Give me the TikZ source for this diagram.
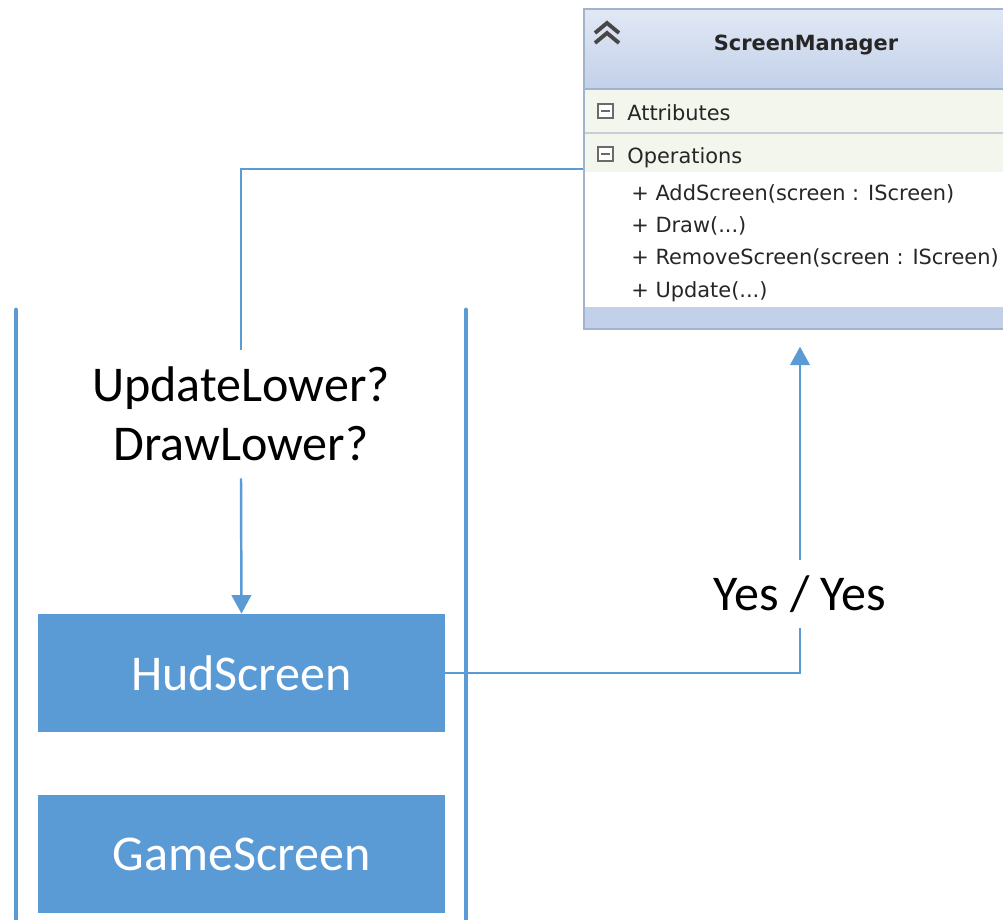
\documentclass[tikz,border=0pt]{standalone}
\usepackage{fontspec}
\setmainfont{Carlito}
\newfontfamily\umlfont{DejaVu Sans}
\usetikzlibrary{arrows.meta,positioning}
\definecolor{accent}{HTML}{5B9BD5}
\definecolor{umltop}{HTML}{E2E9F5}
\definecolor{umlhead}{HTML}{C2D0E9}
\definecolor{umlrow}{HTML}{F3F6EC}
\definecolor{umledge}{HTML}{A2B3CD}
\definecolor{umlsep}{HTML}{C9CED6}
\definecolor{umlink}{HTML}{262626}
\definecolor{umlicon}{HTML}{6A6A6A}
\newcommand\diagfont{\fontsize{28.5}{33.6}\selectfont}
\newcommand\umlsize{\fontsize{11.9}{14}\selectfont}

\begin{document}
\begin{tikzpicture}[x=0.2mm,y=-0.2mm,
  screen/.style={fill=accent,draw=none,minimum width=81.4mm,minimum height=23.6mm,inner sep=0,text=white,font=\diagfont},
  label/.style={font=\diagfont,align=center,text=black},
  stack/.style={draw=accent,line width=2.8pt,line cap=round},
  link/.style={draw=accent,line width=1.4pt},
  arrow/.style={link,-{Triangle[width=3.9mm,length=3.7mm]}},
  umltext/.style={font=\umlfont\umlsize,text=umlink,anchor=base west,inner sep=0},
  icon/.style={draw=umlink!85,line width=2.2pt,line join=miter}
]
\useasboundingbox (0,0) rectangle (1003,919);
\clip (0,0) rectangle (1003,919);

% screen stack
\draw[stack] (16,310) -- (16,930);
\draw[stack] (466,310) -- (466,930);
\node[screen] (hud) at (241.5,673) {HudScreen};
\node[screen] (game) at (241.5,854) {GameScreen};

% class box of the manager
\shade[top color=umltop,bottom color=umlhead] (583,8) rectangle (1025,89);
\fill[umlrow] (583,89) rectangle (1025,172);
\fill[umlhead] (583,307) rectangle (1025,328);
\draw[umledge,line width=.8pt] (583,89) -- (1025,89);
\draw[umlsep,line width=.8pt] (583,133) -- (1025,133);
\node[draw=umledge,line width=.9pt,minimum width=88.4mm,minimum height=64mm,inner sep=0,anchor=north west] (mgr) at (583,8) {};

\draw[icon] (595,33) -- (607,23) -- (619,33);
\draw[icon] (595,43) -- (607,33) -- (619,43);
\foreach \y in {111,154}{
  \draw[umlicon,fill=white,line width=.8pt] (598,\y-7) rectangle (613,\y+7);
  \draw[umlicon,line width=1.2pt] (601,\y) -- (610,\y);
}
\node[umltext,font=\umlfont\umlsize\bfseries,anchor=base] (title) at (806,50) {ScreenManager};
\node[umltext] (attr) at (627,120) {Attributes};
\node[umltext] (ops) at (627,163) {Operations};
\node[umltext] (add) at (631,200) {+ AddScreen(screen : IScreen)};
\node[umltext] (draw) at (631,232) {+ Draw(...)};
\node[umltext] (remove) at (631,264) {+ RemoveScreen(screen : IScreen)};
\node[umltext] (update) at (631,297) {+ Update(...)};

% flags asked on the way down, answers going back up
\node[label,inner sep=3.4mm] (lower) at (241,414) {UpdateLower?\\DrawLower?};
\node[label,inner sep=3mm] (yes) at (800,594) {Yes / Yes};

\draw[link] (mgr.west) -| (lower.north);
\draw[arrow] (lower.south) -- (hud.north);
\draw[link] (hud.east) -| (yes.south);
\draw[arrow,shorten >=3.4mm] (yes.north) -- (yes.north |- mgr.south);
\end{tikzpicture}
\end{document}
